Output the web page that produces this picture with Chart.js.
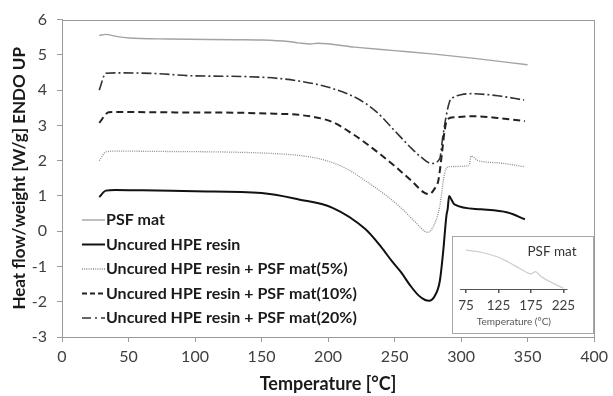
<!DOCTYPE html>
<html>
<head>
<meta charset="utf-8">
<script src="https://cdn.jsdelivr.net/npm/chart.js@4"></script>
<style>
  html, body { margin: 0; padding: 0; background: #fff; }
  #wrap { position: relative; width: 613px; height: 396px; }
  #inset { position: absolute; left: 452px; top: 236px; width: 140px; height: 96px; border: 1px solid #a8a8a8; background: #fff; }
  canvas { display: block; }
</style>
</head>
<body>
<div id="wrap">
  <canvas id="main" width="613" height="396"></canvas>
  <div id="inset"><canvas id="zoom" width="140" height="96"></canvas></div>
</div>
<script>
// series labels
const labels = [
  "PSF mat",
  "Uncured HPE resin",
  "Uncured HPE resin + PSF mat(5%)",
  "Uncured HPE resin + PSF mat(10%)",
  "Uncured HPE resin + PSF mat(20%)"
];

// temperature [°C] / heat flow [W/g]
const psfT = [28, 33, 40, 50, 80, 130, 150, 170, 178, 187, 192, 220, 250, 280, 310, 350];
const psfY = [5.55, 5.58, 5.53, 5.48, 5.45, 5.43, 5.42, 5.38, 5.34, 5.31, 5.33, 5.22, 5.12, 5.02, 4.9, 4.72];

const resinT = [28, 33, 40, 60, 100, 150, 178, 203, 228, 240, 248, 255, 262, 268, 273, 276, 280, 284, 286.5, 289, 290, 291, 292, 295, 315, 335, 348];
const resinY = [0.97, 1.15, 1.17, 1.16, 1.13, 1.08, 0.9, 0.67, 0.06, -0.45, -0.85, -1.17, -1.55, -1.82, -1.95, -1.97, -1.85, -1.42, -0.6, 0.44, 0.65, 1.0, 0.95, 0.76, 0.62, 0.53, 0.34];

const p5T = [28, 33, 40, 80, 130, 160, 178, 198, 215, 230, 242, 255, 265, 275, 280, 284, 287.6, 291, 306, 307.5, 312.5, 330, 347.4];
const p5Y = [2.0, 2.25, 2.27, 2.26, 2.24, 2.2, 2.15, 2.01, 1.75, 1.38, 1.06, 0.66, 0.28, -0.03, 0.2, 0.71, 1.64, 1.83, 1.86, 2.13, 2.01, 1.93, 1.83];

const p10T = [28, 35, 40, 80, 130, 160, 178, 203, 218, 230, 240, 250, 263, 272, 276, 280, 283, 285.6, 287.6, 289.6, 295, 310, 327.5, 348];
const p10Y = [3.07, 3.37, 3.38, 3.37, 3.36, 3.33, 3.3, 3.1, 2.77, 2.45, 2.16, 1.85, 1.42, 1.1, 1.05, 1.2, 1.45, 2.2, 2.84, 3.17, 3.23, 3.26, 3.21, 3.12];

const p20T = [28, 33, 40, 70, 96, 148, 178, 203, 225, 238, 250, 263, 270, 277.6, 284, 286, 288.6, 291.4, 295, 300, 307.5, 327.5, 347.4];
const p20Y = [4.0, 4.48, 4.49, 4.47, 4.41, 4.37, 4.26, 4.05, 3.7, 3.33, 2.85, 2.34, 2.1, 1.92, 2.06, 2.6, 3.22, 3.68, 3.81, 3.87, 3.9, 3.84, 3.72];

// inset: PSF mat close-up
const insetT = [75, 100, 125, 140, 160, 175, 182, 190, 225];
const insetY = [5.47, 5.46, 5.44, 5.42, 5.39, 5.37, 5.38, 5.36, 5.31];

const xTicks = [0, 50, 100, 150, 200, 250, 300, 350, 400];
const yTicks = [-3, -2, -1, 0, 1, 2, 3, 4, 5, 6];
const insetTicks = [75, 125, 175, 225];

const pts = (xs, ys) => xs.map((x, i) => ({ x: x, y: ys[i] }));

const styles = [
  { color: "#a3a3a3", width: 1.4, dash: [], legendDash: [] },
  { color: "#111111", width: 2, dash: [], legendDash: [] },
  { color: "#8c8c8c", width: 1.3, dash: [1, 1.2], legendDash: [1, 1.2] },
  { color: "#222222", width: 2, dash: [7, 4], legendDash: [5, 3] },
  { color: "#333333", width: 1.6, dash: [10, 3, 2, 3], legendDash: [9, 4, 2, 4] }
];
const series = [pts(psfT, psfY), pts(resinT, resinY), pts(p5T, p5Y), pts(p10T, p10Y), pts(p20T, p20Y)];

// frame round the plot + legend inside it
const frameLegend = {
  id: "frameLegend",
  afterDraw(chart) {
    const { ctx, chartArea: a } = chart;
    ctx.save();
    ctx.strokeStyle = "#9a9a9a";
    ctx.lineWidth = 1;
    ctx.strokeRect(Math.round(a.left) + 0.5, Math.round(a.top) + 0.5, Math.round(a.right - a.left), Math.round(a.bottom - a.top));

    ctx.font = "bold 16px Lato";
    ctx.textBaseline = "middle";
    chart.data.datasets.forEach((ds, i) => {
      const y = 220 + i * 24.5;
      const st = styles[i];
      ctx.strokeStyle = st.color;
      ctx.lineWidth = st.width;
      ctx.setLineDash(st.legendDash);
      ctx.beginPath();
      ctx.moveTo(82, y);
      ctx.lineTo(105, y);
      ctx.stroke();
      ctx.setLineDash([]);
      ctx.fillStyle = "#1a1a1a";
      ctx.fillText(ds.label, 106, y);
    });
    ctx.restore();
  }
};

new Chart(document.getElementById("main"), {
  type: "line",
  data: {
    datasets: series.map((d, i) => ({
      label: labels[i],
      data: d,
      borderColor: styles[i].color,
      borderWidth: styles[i].width,
      borderDash: styles[i].dash,
      pointRadius: 0,
      fill: false,
      cubicInterpolationMode: "monotone"
    }))
  },
  options: {
    responsive: false,
    animation: false,
    layout: { padding: { top: 13, right: 16, left: 0, bottom: 0 } },
    plugins: { legend: { display: false }, tooltip: { enabled: false } },
    scales: {
      x: {
        type: "linear", min: 0, max: 400,
        afterBuildTicks: s => { s.ticks = xTicks.map(v => ({ value: v })); },
        ticks: { color: "#404040", font: { family: "Lato", size: 16 }, padding: 5, maxRotation: 0 },
        grid: { drawOnChartArea: false, tickLength: 5, color: "#9a9a9a" },
        border: { color: "#9a9a9a" },
        title: { display: true, text: "Temperature [°C]", color: "#1a1a1a", font: { family: "Lato", size: 18, weight: "bold" }, padding: { top: 0, bottom: 1 } },
        afterFit: s => { s.height = 59; }
      },
      y: {
        type: "linear", min: -3, max: 6,
        afterBuildTicks: s => { s.ticks = yTicks.map(v => ({ value: v })); },
        ticks: { color: "#404040", font: { family: "Lato", size: 16 }, padding: 10 },
        grid: { drawOnChartArea: false, tickLength: 5, color: "#9a9a9a" },
        border: { color: "#9a9a9a" },
        title: { display: true, text: "Heat flow/weight [W/g] ENDO UP", color: "#1a1a1a", font: { family: "Lato", size: 17, weight: "bold" }, padding: { top: 9, bottom: 0 } },
        afterFit: s => { s.width = 62; }
      }
    }
  },
  plugins: [frameLegend]
});

// inset label
const insetLabel = {
  id: "insetLabel",
  afterDraw(chart) {
    const ctx = chart.ctx;
    ctx.save();
    ctx.font = "13.5px Lato";
    ctx.fillStyle = "#333";
    ctx.textAlign = "center";
    ctx.textBaseline = "middle";
    ctx.fillText("PSF mat", 99, 15);
    ctx.restore();
  }
};

new Chart(document.getElementById("zoom"), {
  type: "line",
  data: {
    datasets: [{
      label: "PSF mat",
      data: pts(insetT, insetY),
      borderColor: "#cdcdcd",
      borderWidth: 1.2,
      pointRadius: 0,
      cubicInterpolationMode: "monotone"
    }]
  },
  options: {
    responsive: false,
    animation: false,
    layout: { padding: { top: 5, right: 26, left: 4, bottom: 0 } },
    plugins: { legend: { display: false }, tooltip: { enabled: false } },
    scales: {
      x: {
        type: "linear", min: 67, max: 230.5,
        afterBuildTicks: s => { s.ticks = insetTicks.map(v => ({ value: v })); },
        ticks: { color: "#404040", font: { family: "Lato", size: 13.5 }, padding: 5, maxRotation: 0 },
        grid: { drawOnChartArea: false, tickLength: 4, color: "#555", lineWidth: 1.5 },
        border: { color: "#555" },
        title: { display: true, text: "Temperature (°C)", color: "#555", font: { family: "Lato", size: 10 }, padding: { top: 0, bottom: 5 } },
        afterFit: s => { s.height = 44; }
      },
      y: { display: false, min: 5.307, max: 5.504 }
    }
  },
  plugins: [insetLabel]
});
</script>
</body>
</html>
